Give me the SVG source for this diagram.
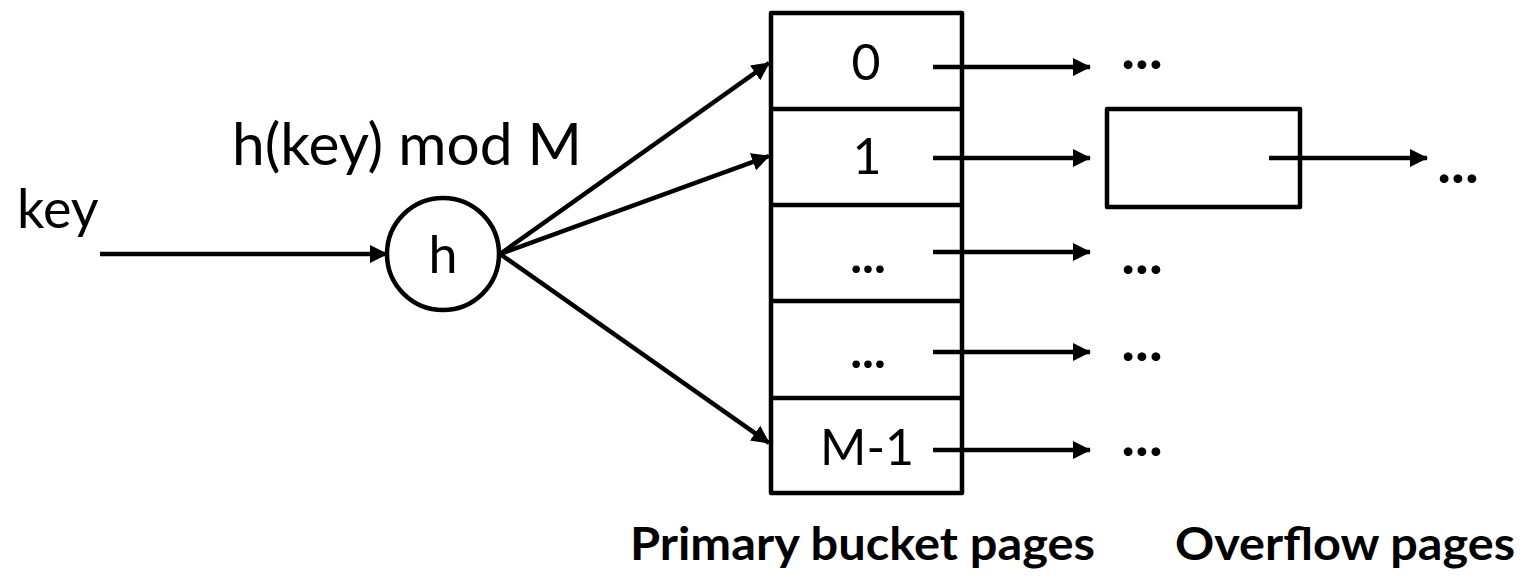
<svg xmlns="http://www.w3.org/2000/svg" width="1524" height="577" viewBox="0 0 1524 577">
<style>
.t{font-family:Lato,"Open Sans",sans-serif;fill:#000}
.b{font-family:Lato,"Open Sans",sans-serif;font-weight:bold;fill:#000}
.s{fill:none;stroke:#000;stroke-width:4.5;stroke-linejoin:round}
.c{stroke:#000;stroke-width:4.5;fill:none}
</style>
<defs>
<marker id="ah" markerUnits="userSpaceOnUse" markerWidth="18" markerHeight="20" viewBox="0 0 18 20" refX="17" refY="10" orient="auto">
<path d="M0,1 L18,10 L0,19 Z" fill="#000"/>
</marker>
</defs>
<g id="labels">
<text class="t" x="17" y="228" font-size="54">key</text>
<text class="t" x="232" y="165" font-size="58" textLength="350" lengthAdjust="spacingAndGlyphs">h(key) mod M</text>
<text class="b" x="630" y="560" font-size="46" textLength="465" lengthAdjust="spacingAndGlyphs">Primary bucket pages</text>
<text class="b" x="1175" y="560" font-size="46" textLength="340" lengthAdjust="spacingAndGlyphs">Overflow pages</text>
</g>
<g id="hash">
<circle class="s" cx="443" cy="254" r="56"/>
<text class="t" x="443" y="273" font-size="52" text-anchor="middle">h</text>
</g>
<g id="buckets">
<rect class="s" x="771" y="13" width="191" height="480"/>
<line class="s" x1="771" y1="109" x2="962" y2="109"/>
<line class="s" x1="771" y1="205" x2="962" y2="205"/>
<line class="s" x1="771" y1="301" x2="962" y2="301"/>
<line class="s" x1="771" y1="398" x2="962" y2="398"/>
<text class="t" x="866" y="80" font-size="50" text-anchor="middle">0</text>
<text class="t" x="867" y="174" font-size="50" text-anchor="middle">1</text>
<text class="b" x="868" y="273" font-size="50" text-anchor="middle">...</text>
<text class="b" x="868" y="368" font-size="50" text-anchor="middle">...</text>
<text class="t" x="867" y="465" font-size="50" text-anchor="middle">M-1</text>
</g>
<g id="overflow">
<rect class="s" x="1107" y="109" width="193" height="98"/>
</g>
<g id="dots">
<text class="b" x="1142" y="69" font-size="58" text-anchor="middle">...</text>
<text class="b" x="1142" y="274" font-size="58" text-anchor="middle">...</text>
<text class="b" x="1142" y="361" font-size="58" text-anchor="middle">...</text>
<text class="b" x="1142" y="456" font-size="58" text-anchor="middle">...</text>
<text class="b" x="1458" y="183" font-size="58" text-anchor="middle">...</text>
</g>
<g id="connectors">
<line class="c" x1="100" y1="254" x2="387" y2="254" marker-end="url(#ah)"/>
<line class="c" x1="500" y1="254" x2="769" y2="63" marker-end="url(#ah)"/>
<line class="c" x1="500" y1="254" x2="769" y2="156" marker-end="url(#ah)"/>
<line class="c" x1="500" y1="254" x2="769" y2="443" marker-end="url(#ah)"/>
<line class="c" x1="933" y1="67" x2="1090" y2="67" marker-end="url(#ah)"/>
<line class="c" x1="933" y1="158" x2="1090" y2="158" marker-end="url(#ah)"/>
<line class="c" x1="933" y1="252" x2="1090" y2="252" marker-end="url(#ah)"/>
<line class="c" x1="933" y1="352" x2="1090" y2="352" marker-end="url(#ah)"/>
<line class="c" x1="933" y1="450" x2="1090" y2="450" marker-end="url(#ah)"/>
<line class="c" x1="1269" y1="158" x2="1427" y2="158" marker-end="url(#ah)"/>
</g>
</svg>
